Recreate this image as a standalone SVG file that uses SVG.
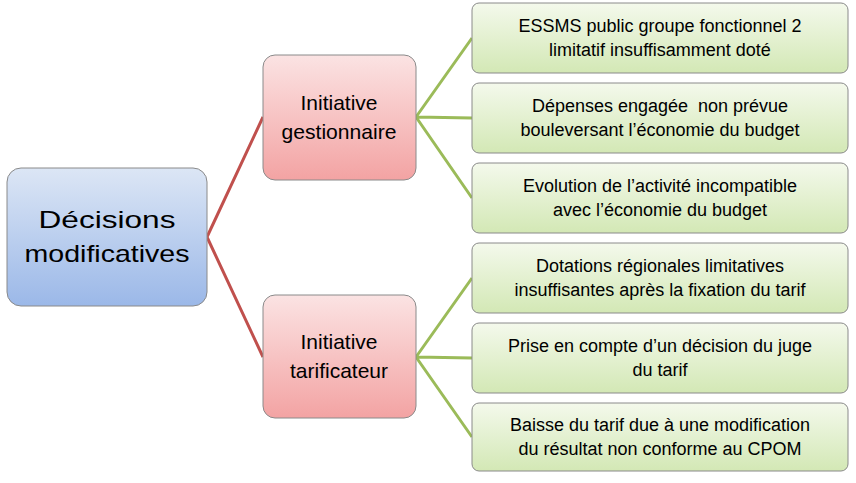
<svg xmlns="http://www.w3.org/2000/svg" width="856" height="483" viewBox="0 0 856 483">
<defs>
<linearGradient id="gb" x1="0" y1="0" x2="0" y2="1"><stop offset="0" stop-color="#dce6f5"/><stop offset="1" stop-color="#9bb8e8"/></linearGradient>
<linearGradient id="gr" x1="0" y1="0" x2="0" y2="1"><stop offset="0" stop-color="#fbe3e3"/><stop offset="1" stop-color="#f3a3a3"/></linearGradient>
<linearGradient id="gg" x1="0" y1="0" x2="0" y2="1"><stop offset="0" stop-color="#f4f9ec"/><stop offset="1" stop-color="#d3e8b5"/></linearGradient>
<style>
rect{stroke:#8a8a8a;stroke-width:1}
text{font-family:"Liberation Sans",sans-serif;fill:#000;text-anchor:middle}
.r{fill:url(#gb)} .m{fill:url(#gr)} .l{fill:url(#gg)}
.t1{font-size:24px}.t2{font-size:21px}.t3{font-size:18px}
.cr{stroke:#c0504d;stroke-width:3;fill:none}.cg{stroke:#9bbb59;stroke-width:3;fill:none}
</style>
</defs>
<g id="connectors">
<path class="cr" d="M207,237 L263,117 M207,237 L263,357"/>
<path class="cg" d="M416,117 L472,38 M416,117 L472,118 M416,117 L472,198 M416,357 L472,278 M416,357 L472,358 M416,357 L472,437"/>
</g>
<g id="root"><rect class="r" x="7" y="168" width="200" height="138" rx="14"/><text class="t1" x="107" y="228" textLength="137" lengthAdjust="spacingAndGlyphs">Décisions</text><text class="t1" x="107" y="262" textLength="165" lengthAdjust="spacingAndGlyphs">modificatives</text></g>
<g id="mid1"><rect class="m" x="263" y="55" width="153" height="125" rx="12"/><text class="t2" x="339" y="110">Initiative</text><text class="t2" x="339" y="139" textLength="115" lengthAdjust="spacingAndGlyphs">gestionnaire</text></g>
<g id="mid2"><rect class="m" x="263" y="295" width="153" height="123" rx="12"/><text class="t2" x="339" y="349">Initiative</text><text class="t2" x="339" y="378">tarificateur</text></g>
<g id="leaf1"><rect class="l" x="472" y="3" width="376" height="70" rx="7"/><text class="t3" x="660" y="32">ESSMS public groupe fonctionnel 2</text><text class="t3" x="660" y="56">limitatif insuffisamment doté</text></g>
<g id="leaf2"><rect class="l" x="472" y="83" width="376" height="70" rx="7"/><text class="t3" x="660" y="112" xml:space="preserve">Dépenses engagée  non prévue</text><text class="t3" x="660" y="136">bouleversant l’économie du budget</text></g>
<g id="leaf3"><rect class="l" x="472" y="163" width="376" height="70" rx="7"/><text class="t3" x="660" y="192">Evolution de l’activité incompatible</text><text class="t3" x="660" y="216">avec l’économie du budget</text></g>
<g id="leaf4"><rect class="l" x="472" y="243" width="376" height="70" rx="7"/><text class="t3" x="660" y="272">Dotations régionales limitatives</text><text class="t3" x="660" y="296">insuffisantes après la fixation du tarif</text></g>
<g id="leaf5"><rect class="l" x="472" y="323" width="376" height="70" rx="7"/><text class="t3" x="660" y="352">Prise en compte d’un décision du juge</text><text class="t3" x="660" y="376">du tarif</text></g>
<g id="leaf6"><rect class="l" x="472" y="403" width="376" height="68" rx="7"/><text class="t3" x="660" y="431">Baisse du tarif due à une modification</text><text class="t3" x="660" y="455">du résultat non conforme au CPOM</text></g>
</svg>
